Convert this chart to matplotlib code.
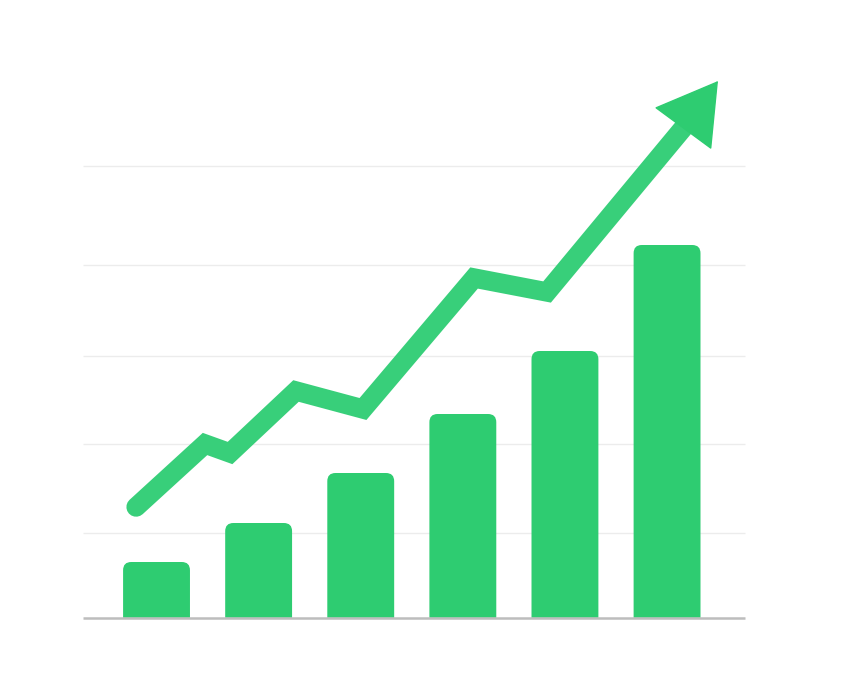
import matplotlib.pyplot as plt
from matplotlib.patches import FancyBboxPatch

# Bars (six growing columns), values in arbitrary units
bar_pos = [0, 1, 2, 3, 4, 5]
bar_vals = [56, 95, 145, 204, 267, 373]

# Trend line points (x in bar-index units, y in the same units as bars)
line_x = [-0.20, 0.475, 0.72, 1.366, 2.022, 3.11, 3.825, 5.167]
line_y = [111, 174, 165, 227, 209, 340, 326, 491]
arrow_tip = (5.499, 537)

grid_vals = [85, 174, 262, 353, 452]

green = "#2ecc71"
line_green = "#38cf7a"

fig = plt.figure(figsize=(8.44, 6.75), dpi=100)
ax = fig.add_axes([0, 0, 1, 1])
ax.set_xlim(-1.533, 6.733)
ax.set_ylim(-57, 618)
ax.axis("off")

x_left, x_right = -0.716, 5.763

# Faint gridlines
for g in grid_vals:
    ax.hlines(g, x_left, x_right, color="#ececec", linewidth=1.0, zorder=0)

# Bars with rounded tops
bars = ax.bar(bar_pos, bar_vals, width=0.655, color=green, alpha=0)
for b in bars:
    p = FancyBboxPatch((b.get_x(), b.get_y() - 20), b.get_width(), b.get_height() + 20,
                       boxstyle="round,pad=0,rounding_size=0.08",
                       mutation_aspect=102, facecolor=green, edgecolor="none", zorder=2)
    ax.add_patch(p)

# White under the baseline hides the bottom rounding
ax.axhspan(-57, 0, color="white", zorder=3)
ax.hlines(0, x_left, x_right, color="#bdbdbd", linewidth=1.8, zorder=4)

# Trend line and arrow head
ax.plot(line_x, line_y, color=line_green, linewidth=14,
        solid_joinstyle="miter", solid_capstyle="round", zorder=5)
ax.annotate("", xy=arrow_tip, xytext=(line_x[-1], line_y[-1]),
            arrowprops=dict(arrowstyle="-|>,head_length=2.05,head_width=1.22",
                            mutation_scale=20, color=green, lw=1,
                            shrinkA=0, shrinkB=0), zorder=6)

fig.savefig("out.png", dpi=100, facecolor="white")
